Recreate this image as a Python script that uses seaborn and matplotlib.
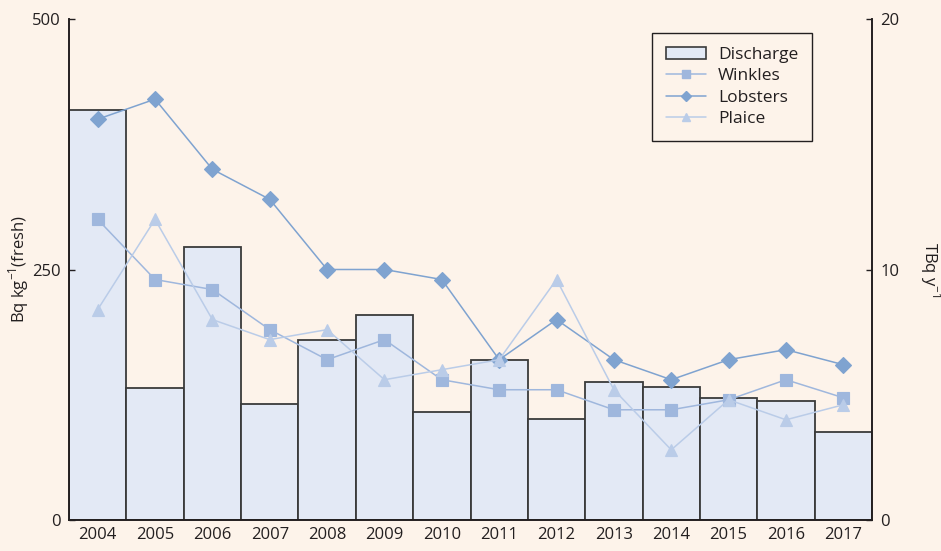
import matplotlib
matplotlib.use('Agg')
import matplotlib.pyplot as plt
import numpy as np
import pandas as pd
import seaborn as sns
from matplotlib.patches import Patch
from matplotlib.lines import Line2D

years = [str(y) for y in range(2004, 2018)]

# TBq/y, right axis
discharge = [16.35, 5.27, 10.9, 4.63, 7.19, 8.17, 4.31, 6.37, 4.03, 5.49, 5.29, 4.89, 4.76, 3.53]

# Bq/kg (fresh), left axis
winkles = [300, 240, 230, 190, 160, 180, 140, 130, 130, 110, 110, 120, 140, 122]
lobsters = [400, 420, 350, 320, 250, 250, 240, 160, 200, 160, 140, 160, 170, 155]
plaice = [210, 300, 200, 180, 190, 140, 150, 160, 240, 130, 70, 120, 100, 115]

bg = '#fdf3ea'
bar_fill = '#e3e9f5'
c_wink = '#9fb7dd'
c_lob = '#7fa3d0'
c_plaice = '#bacce8'
txt = '#231f20'

sns.set_theme(style='white')
plt.rcParams['font.family'] = ['Open Sans', 'DejaVu Sans']
plt.rcParams['text.color'] = txt
plt.rcParams['axes.labelcolor'] = txt
plt.rcParams['xtick.color'] = txt
plt.rcParams['ytick.color'] = txt

fig = plt.figure(figsize=(9.41, 5.51), dpi=100, facecolor=bg)
ax = fig.add_axes([69 / 941, 1 - 520 / 551, 803 / 941, 501 / 551])
ax2 = ax.twinx()

# bars on the right (TBq) axis
bar_df = pd.DataFrame({'Year': years, 'Discharge': discharge})
sns.barplot(data=bar_df, x='Year', y='Discharge', ax=ax2, color=bar_fill,
            width=1.0, edgecolor='#3a3a3a', linewidth=1.3, saturation=1)

# lines on the left (Bq/kg) axis
line_df = pd.DataFrame({
    'Year': years * 3,
    'Value': winkles + lobsters + plaice,
    'Species': ['Winkles'] * 14 + ['Lobsters'] * 14 + ['Plaice'] * 14,
})
sns.pointplot(data=line_df, x='Year', y='Value', hue='Species', ax=ax,
              palette={'Winkles': c_wink, 'Lobsters': c_lob, 'Plaice': c_plaice},
              markers=['s', 'D', '^'], errorbar=None, dodge=False,
              markersize=8, linewidth=1.1, legend=False)

ax.set_zorder(ax2.get_zorder() + 1)
ax.patch.set_visible(False)
ax2.set_facecolor(bg)

ax.set_xlim(-0.5, 13.5)
ax.set_ylim(0, 500)
ax2.set_ylim(0, 20)
ax.set_yticks([0, 250, 500])
ax2.set_yticks([0, 10, 20])

for a in (ax, ax2):
    a.spines['top'].set_visible(False)
    for s in ('left', 'right', 'bottom'):
        a.spines[s].set_color('#231f20')
        a.spines[s].set_linewidth(1.2)
    a.tick_params(axis='y', direction='in', length=4, width=1, labelsize=12, pad=6)
    a.tick_params(axis='x', length=0, labelsize=12, pad=5)
    a.set_xlabel('')

ax.set_ylabel('Bq kg$^{\\mathregular{-1}}$(fresh)', fontsize=12, labelpad=1)
ax2.set_ylabel('TBq y$^{\\mathregular{-1}}$', fontsize=12, rotation=-90, labelpad=31)

handles = [
    Patch(facecolor=bar_fill, edgecolor='#3a3a3a', linewidth=1.2, label='Discharge'),
    Line2D([], [], color=c_wink, marker='s', markersize=6, linewidth=1.1, label='Winkles'),
    Line2D([], [], color=c_lob, marker='D', markersize=5, linewidth=1.1, label='Lobsters'),
    Line2D([], [], color=c_plaice, marker='^', markersize=6, linewidth=1.1, label='Plaice'),
]
leg = ax.legend(handles=handles, loc='upper left', bbox_to_anchor=(583 / 803, 487 / 501),
                borderaxespad=0, fontsize=12.5, frameon=True, fancybox=False,
                facecolor=bg, edgecolor='#231f20', framealpha=1, handlelength=2.3,
                labelspacing=0.3, borderpad=0.8, handletextpad=0.7)
leg.get_frame().set_linewidth(1.0)

fig.savefig('out.png', dpi=100, facecolor=bg)
